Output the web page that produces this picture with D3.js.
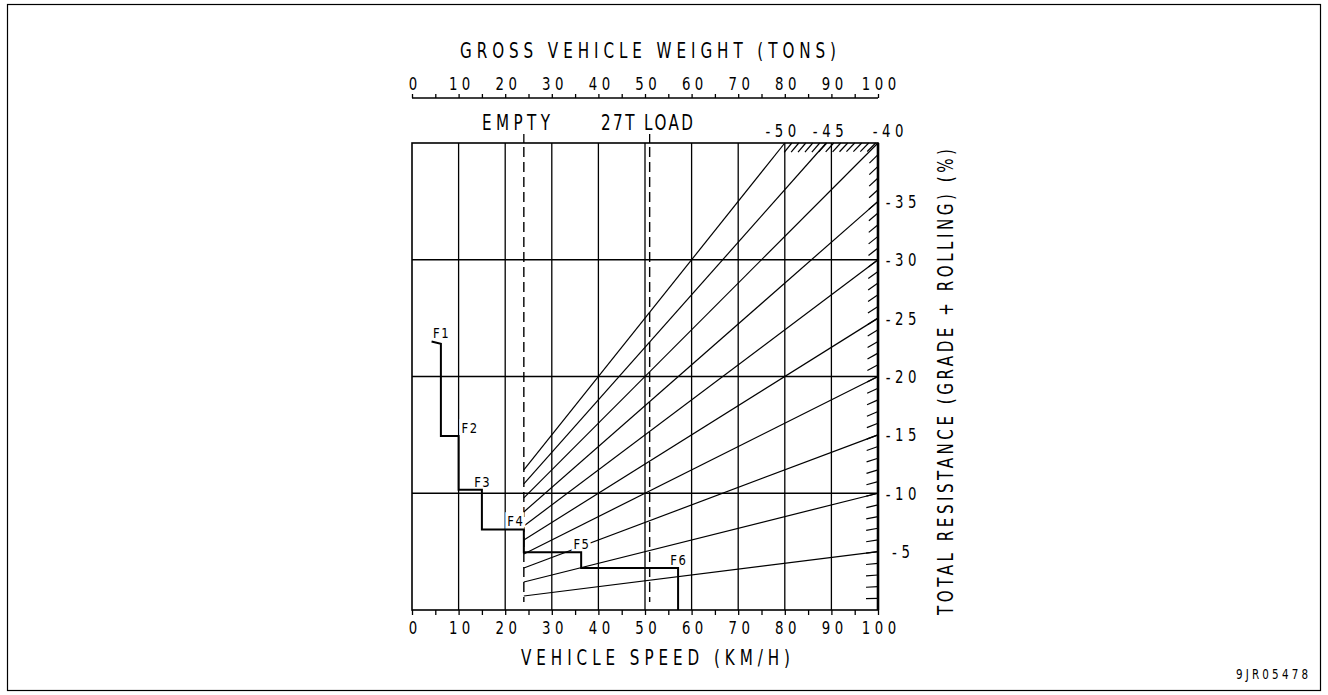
<!DOCTYPE html>
<html><head><meta charset="utf-8">
<script src="https://cdn.jsdelivr.net/npm/d3@7"></script>
<style>
body{margin:0;background:#fff;}
svg text{font-family:"DejaVu Sans","Liberation Sans",sans-serif;fill:#000;}
</style></head><body>
<svg id="c" width="1328" height="695"></svg>
<script>
// ---------- data ----------
const weightTicks = [0,10,20,30,40,50,60,70,80,90,100];
const speedTicks = [0,10,20,30,40,50,60,70,80,90,100];
const resistanceTicks = [5,10,15,20,25,30,35];
const resistanceGrid = [10,20,30];
const resistanceLines = [5,10,15,20,25,30,35,40,45,50];
const topLineLabels = [50,45,40];
const emptyWeight = 24;
const loadedWeight = 51;
const weightMarkers = ["EMPTY","27T LOAD"];
const stepSpeed = [4.2,6.2,6.2,10,10,15,15,24,24,36.3,36.3,57.1,57.1];
const stepResist = [23.0,22.8,14.9,14.9,10.3,10.3,6.9,6.9,4.95,4.95,3.6,3.6,0];
const gearNames = ["F1","F2","F3","F4","F5","F6"];
const gearPointIndex = [1,3,5,7,9,11];
const topTitle = "GROSS VEHICLE WEIGHT (TONS)";
const bottomTitle = "VEHICLE SPEED (KM/H)";
const rightTitle = "TOTAL RESISTANCE (GRADE + ROLLING) (%)";
const figureCode = "9JR05478";

// ---------- helpers ----------
const SX = 0.74; // horizontal squeeze to mimic a narrow technical font
function tt(parent, str, o){
  const sx = o.sx || SX;
  const gg = parent.append("g")
    .attr("transform",`translate(${o.x},${o.y}) rotate(${o.rot||0}) scale(${sx},1)`);
  const t = gg.append("text").attr("x",0).attr("y",0)
    .attr("font-size",o.size).text(str);
  if(o.width){
    t.attr("textLength",o.width/sx).attr("lengthAdjust","spacing");
    if(o.anchor) t.attr("text-anchor",o.anchor);
  } else if(o.ls){
    t.attr("letter-spacing",o.ls/sx);
    if(o.anchor==="middle"){ t.attr("text-anchor","middle").attr("dx",o.ls/sx/2); }
    else if(o.anchor==="end"){ t.attr("text-anchor","end").attr("dx",o.ls/sx); }
    else if(o.anchor) t.attr("text-anchor",o.anchor);
  } else if(o.anchor) t.attr("text-anchor",o.anchor);
  if(o.halo) t.attr("stroke","#fff").attr("stroke-width",o.halo/sx).attr("paint-order","stroke");
  return t;
}

// ---------- layout ----------
const svg = d3.select("#c");
const L = 412, R = 878, T = 143, B = 610;
const x = d3.scaleLinear().domain([0,100]).range([L,R]);
const y = d3.scaleLinear().domain([0,40]).range([B,T]);

// outer frame
svg.append("rect").attr("x",7.5).attr("y",4.5).attr("width",1313).attr("height",686)
  .attr("fill","none").attr("stroke","#000").attr("stroke-width",1.2);

const g = svg.append("g");

// vertical grid
g.selectAll(".vg").data(d3.range(10,100,10)).join("line")
  .attr("x1",d=>x(d)).attr("x2",d=>x(d)).attr("y1",T).attr("y2",B)
  .attr("stroke","#000").attr("stroke-width",1.3);
// horizontal grid
g.selectAll(".hg").data(resistanceGrid).join("line")
  .attr("x1",L).attr("x2",R).attr("y1",d=>y(d)).attr("y2",d=>y(d))
  .attr("stroke","#000").attr("stroke-width",1.3);

// fan lines (total resistance lines through origin)
g.selectAll(".fan").data(resistanceLines).join("line")
  .attr("x1",x(emptyWeight)).attr("y1",d=>y(d*emptyWeight/100))
  .attr("x2",d=>x(Math.min(100,4000/d))).attr("y2",d=>y(d*Math.min(100,4000/d)/100))
  .attr("stroke","#000").attr("stroke-width",1.2);

// dashed weight markers
[emptyWeight,loadedWeight].forEach(w=>{
  g.append("line").attr("x1",x(w)).attr("x2",x(w)).attr("y1",T+4).attr("y2",B-8)
    .attr("stroke","#000").attr("stroke-width",1.4).attr("stroke-dasharray","10,5");
  g.append("line").attr("x1",x(w)).attr("x2",x(w)).attr("y1",T-9).attr("y2",T)
    .attr("stroke","#000").attr("stroke-width",1.3);
});
tt(svg, weightMarkers[0], {x:482, y:130, size:20.5, width:68});
tt(svg, weightMarkers[1], {x:601, y:130, size:20.5, width:92});

// right edge slanted ticks (direction toward origin)
const ox = x(0), oy = y(0);
function slantTick(px,py,len){
  const dx = ox-px, dy = oy-py, n = Math.hypot(dx,dy);
  return [px,py,px+dx/n*len,py+dy/n*len];
}
g.selectAll(".rt").data(d3.range(1,40)).join("line")
  .each(function(d){
    const s = slantTick(x(100),y(d),12);
    d3.select(this).attr("x1",s[0]).attr("y1",s[1]).attr("x2",s[2]).attr("y2",s[3]);
  }).attr("stroke","#000").attr("stroke-width",1.2);
// top hatch from 80 to 100
g.selectAll(".th").data(d3.range(81.5,100.1,1.5)).join("line")
  .each(function(d){
    const s = slantTick(x(d),y(40),12);
    d3.select(this).attr("x1",s[0]).attr("y1",s[1]).attr("x2",s[2]).attr("y2",s[3]);
  }).attr("stroke","#000").attr("stroke-width",1.2);

// gear labels (with white halo)
gearNames.forEach((d,i)=>{
  const k = gearPointIndex[i], px = x(stepSpeed[k]), py = y(stepResist[k]);
  let o = {size:14.5, ls:1.5, halo:6, sx:0.8};
  if(d==="F1"){ o.x=px; o.y=py-6; o.anchor="middle"; }
  else if(d==="F2"){ o.x=px+3; o.y=py-3; o.anchor="start"; }
  else if(d==="F4"){ o.x=px-1; o.y=py-3; o.anchor="end"; }
  else { o.x=px; o.y=py-3; o.anchor="middle"; }
  tt(g, d, o);
});

// step line
g.append("path")
  .attr("d",d3.line()(stepSpeed.map((s,i)=>[x(s),y(stepResist[i])])))
  .attr("fill","none").attr("stroke","#000").attr("stroke-width",2).attr("stroke-linejoin","miter");

// plot border
g.append("rect").attr("x",L).attr("y",T).attr("width",R-L).attr("height",B-T)
  .attr("fill","none").attr("stroke","#000").attr("stroke-width",1.6);
g.append("line").attr("x1",R).attr("x2",R).attr("y1",T).attr("y2",B)
  .attr("stroke","#000").attr("stroke-width",2.6);

// top axis (weight)
const topAxisY = 98;
const topAxis = d3.axisTop(x).tickValues(d3.range(0,101,5)).tickSize(4).tickFormat("");
svg.append("g").attr("transform",`translate(0,${topAxisY})`).call(topAxis)
  .call(a=>{a.select(".domain").attr("stroke","#000").attr("stroke-width",1.4).attr("d",`M${L},0H${R}`);
           a.selectAll("line").attr("stroke","#000").attr("stroke-width",1.3);});
weightTicks.forEach(d=>tt(svg, String(d), {x:x(d)+1, y:90, size:18, ls:4.5, anchor:"middle"}));
tt(svg, topTitle, {x:460, y:58, size:20.5, width:376});

// top-right resistance labels (placed where each line meets the top edge)
const topLabelShift = {50:-4, 45:2, 40:10};
topLineLabels.forEach(d=>tt(svg, "-"+d, {x:x(Math.min(100,4000/d))+topLabelShift[d], y:137, size:18, ls:4.5, anchor:"middle"}));

// bottom axis (speed)
const botAxis = d3.axisBottom(x).tickValues(d3.range(0,101,5)).tickSize(5).tickFormat("");
svg.append("g").attr("transform",`translate(0,${B})`).call(botAxis)
  .call(a=>{a.select(".domain").remove();
           a.selectAll("line").attr("stroke","#000").attr("stroke-width",1.3);});
speedTicks.forEach(d=>tt(svg, String(d), {x:x(d)+1, y:634, size:18, ls:4.5, anchor:"middle"}));
tt(svg, bottomTitle, {x:521, y:665, size:20.5, width:269});

// right axis labels
resistanceTicks.forEach(d=>tt(svg, "-"+d, {x:901, y:y(d)+6.5, size:18, ls:4.5, anchor:"middle"}));
tt(svg, rightTitle, {x:953, y:615, rot:-90, size:20.5, width:466});

// figure code
tt(svg, figureCode, {x:1236, y:679, size:14, width:72});
</script>
</body></html>
